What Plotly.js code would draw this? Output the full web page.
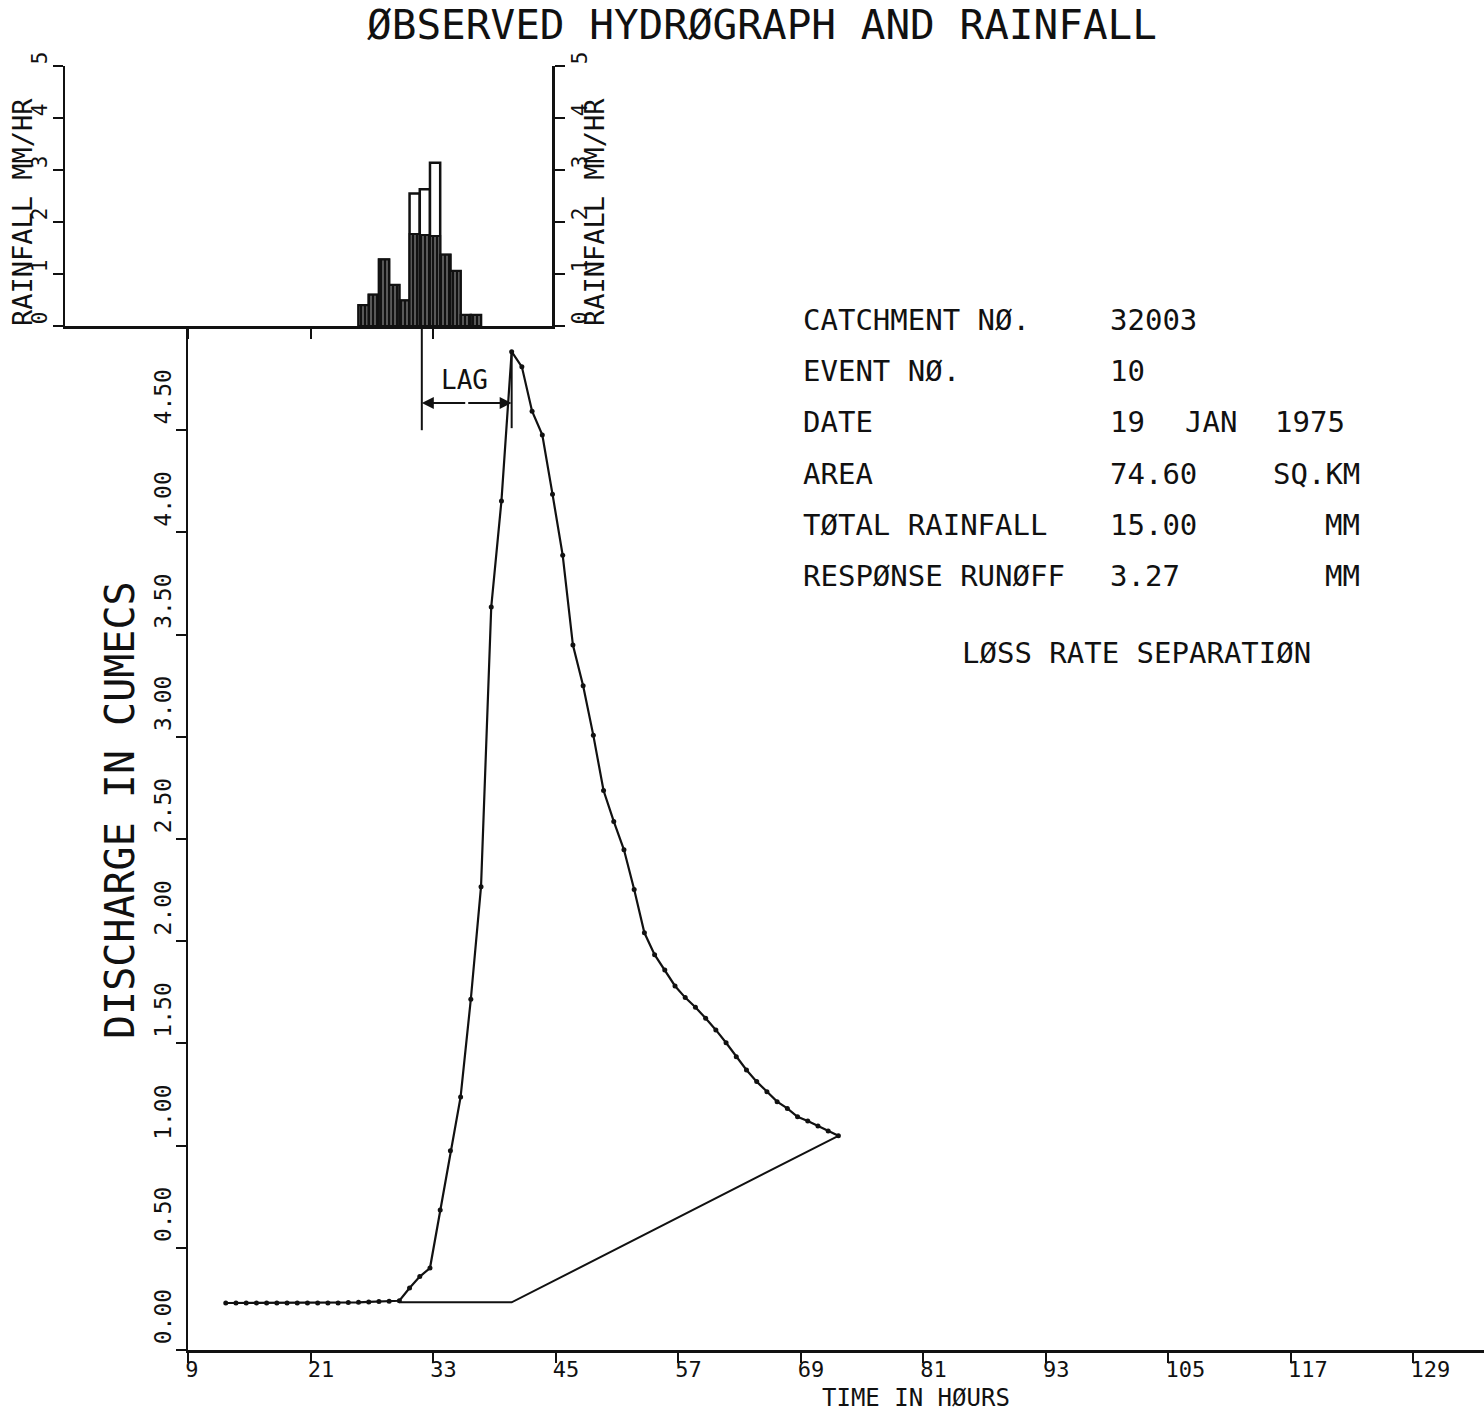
<!DOCTYPE html>
<html>
<head>
<meta charset="utf-8">
<script src="https://cdn.plot.ly/plotly-3.0.1.min.js"></script>
<style>
  html, body { margin: 0; padding: 0; background: #fff; }
  #chart { width: 1484px; height: 1413px; }
</style>
</head>
<body>
<div id="chart"></div>
<script>
// ---------------- DATA ----------------
const hydroTime = [12.7,13.7,14.7,15.7,16.7,17.7,18.7,19.7,20.7,21.7,22.7,23.7,24.7,25.7,26.7,27.7,28.7,
  29.7,30.7,31.7,32.7,33.7,34.7,35.7,36.7,37.7,38.7,39.7,40.7,
  41.7,42.7,43.7,44.7,45.7,46.7,47.7,48.7,49.7,50.7,51.7,52.7,53.7,54.7,55.7,56.7,
  57.7,58.7,59.7,60.7,61.7,62.7,63.7,64.7,65.7,66.7,67.7,68.7,69.7,70.7,71.7,72.7];
const hydroFlow = [0.23,0.23,0.23,0.23,0.23,0.23,0.23,0.23,0.23,0.23,0.23,0.23,0.232,0.233,0.235,0.237,0.239,
  0.241,0.303,0.359,0.401,0.685,0.975,1.238,1.716,2.267,3.635,4.154,4.884,
  4.810,4.593,4.477,4.187,3.888,3.449,3.250,3.007,2.737,2.586,2.447,2.253,2.041,1.934,1.859,1.781,
  1.724,1.677,1.623,1.566,1.503,1.435,1.370,1.313,1.264,1.215,1.182,1.141,1.120,1.096,1.071,1.048];

const sepTime = [29.7, 40.7, 72.7];
const sepFlow = [0.233, 0.233, 1.048];

const rainTime  = [26.2,27.2,28.2,29.2,30.2,31.2,32.2,33.2,34.2,35.2,36.2,37.2];
const rainTotal = [0.40,0.60,1.28,0.79,0.49,2.55,2.63,3.14,1.37,1.06,0.21,0.21];
const rainLoss  = [0.40,0.60,1.28,0.79,0.49,1.77,1.75,1.73,1.37,1.06,0.21,0.21];

const lagStart = 31.9, lagEnd = 40.7;

const timeTicks = [9,21,33,45,57,69,81,93,105,117,129];
const timeTickText = ["9","21","33","45","57","69","81","93","105","117","129"];
const flowTicks = [0,0.5,1,1.5,2,2.5,3,3.5,4,4.5];
const flowTickText = ["0.00","0.50","1.00","1.50","2.00","2.50","3.00","3.50","4.00","4.50"];
const rainTicks = [0,1,2,3,4,5];
const rainTickText = ["0","1","2","3","4","5"];

const infoLabels = ["CATCHMENT NØ.","EVENT NØ.","DATE","AREA","TØTAL RAINFALL","RESPØNSE RUNØFF"];
const infoValues = ["32003","10","19","74.60","15.00","3.27"];
const infoExtra  = ["","","JAN","","",""];
const infoUnits  = ["","","1975","SQ.KM","MM","MM"];
const methodText = "LØSS RATE SEPARATIØN";

// ---------------- LAYOUT HELPERS ----------------
const W = 1484, H = 1413;
const px = x => x / W;
const py = y => 1 - y / H;
const FONT = "DejaVu Sans Mono";
const INK = "#111";

const traces = [
  { type: 'bar', x: rainTime, y: rainTotal, width: 1, xaxis: 'x2', yaxis: 'y2',
    marker: { color: '#fff', line: { color: INK, width: 2.5 } }, hoverinfo: 'skip' },
  { type: 'bar', x: rainTime, y: rainLoss, width: 1, xaxis: 'x2', yaxis: 'y2',
    marker: { color: INK, line: { color: INK, width: 2 },
      pattern: { shape: '|', fgcolor: '#fff', bgcolor: INK, size: 4, solidity: 0.15 } }, hoverinfo: 'skip' },
  { type: 'scatter', mode: 'lines', x: sepTime, y: sepFlow, xaxis: 'x', yaxis: 'y',
    line: { color: INK, width: 2 }, hoverinfo: 'skip' },
  { type: 'scatter', mode: 'lines+markers', x: hydroTime, y: hydroFlow, xaxis: 'x', yaxis: 'y',
    line: { color: INK, width: 2.2 }, marker: { color: INK, size: 5 }, hoverinfo: 'skip' },
  // invisible trace so the right rainfall axis is drawn
  { type: 'scatter', mode: 'markers', x: [0], y: [0], xaxis: 'x2', yaxis: 'y3',
    marker: { opacity: 0 }, hoverinfo: 'skip', showlegend: false }
];

const ann = [];
function txt(text, x, y, size, opts) {
  ann.push(Object.assign({ text: text, xref: 'paper', yref: 'paper', x: px(x), y: py(y),
    showarrow: false, xanchor: 'left', yanchor: 'middle',
    font: { family: FONT, size: size, color: INK } }, opts || {}));
}
for (let i = 0; i < infoLabels.length; i++) {
  const yy = 320 + i * 51.2;
  txt(infoLabels[i], 801, yy, 29);
  txt(infoValues[i], 1108, yy, 29);
  if (infoExtra[i]) txt(infoExtra[i], 1183, yy, 29);
  if (infoUnits[i]) {
    if (i === 2) txt(infoUnits[i], 1273, yy, 29);
    else txt(infoUnits[i], 1362, yy, 29, { xanchor: 'right' });
  }
}
txt(methodText, 1136, 653, 29, { xanchor: 'center' });
// axis titles
txt("DISCHARGE IN CUMECS", 120, 810, 40, { xanchor: 'center', textangle: -90 });
txt("TIME IN HØURS", 916, 1398, 24, { xanchor: 'center' });
txt("RAINFALL MM/HR", 22, 212, 27, { xanchor: 'center', textangle: -90 });
txt("RAINFALL MM/HR", 594, 212, 27, { xanchor: 'center', textangle: -90 });

// LAG annotation (data coordinates)
const lagY = 4.633;
const lagMid = (lagStart + lagEnd) / 2;
ann.push({ xref: 'x', yref: 'y', axref: 'x', ayref: 'y', x: lagStart, y: lagY, ax: lagMid, ay: lagY,
  showarrow: true, arrowhead: 2, arrowsize: 1.2, arrowwidth: 2, arrowcolor: INK, text: '' });
ann.push({ xref: 'x', yref: 'y', axref: 'x', ayref: 'y', x: lagEnd, y: lagY, ax: lagMid, ay: lagY,
  showarrow: true, arrowhead: 2, arrowsize: 1.2, arrowwidth: 2, arrowcolor: INK, text: '' });
ann.push({ xref: 'x', yref: 'y', x: lagMid - 0.2, y: 4.746, text: 'LAG', showarrow: false,
  font: { family: FONT, size: 26, color: INK } });

const shapes = [
  { type: 'line', xref: 'x', yref: 'y', x0: lagStart, x1: lagStart, y0: 4.50, y1: 5.0,
    line: { color: INK, width: 2 } },
  { type: 'line', xref: 'x', yref: 'y', x0: lagEnd, x1: lagEnd, y0: 4.51, y1: 4.88,
    line: { color: INK, width: 2 } }
];

const layout = {
  width: W, height: H,
  margin: { l: 0, r: 0, t: 0, b: 0 },
  paper_bgcolor: '#fff', plot_bgcolor: 'rgba(0,0,0,0)',
  showlegend: false,
  barmode: 'overlay', bargap: 0,
  title: { text: 'ØBSERVED HYDRØGRAPH AND RAINFALL', x: px(762), xanchor: 'center',
    y: py(25), yanchor: 'middle', font: { family: FONT, size: 41, color: INK } },
  xaxis: { domain: [px(188), 1], range: [9, 9 + (W - 188) / 10.21], anchor: 'y',
    showgrid: false, zeroline: false, showline: true, linecolor: INK, linewidth: 2.5,
    ticks: 'outside', ticklen: 10, tickwidth: 2, tickcolor: INK,
    tickvals: timeTicks, ticktext: timeTickText, ticklabelposition: 'outside right',
    ticklabelshift: -5, ticklabelstandoff: -2,
    tickfont: { family: FONT, size: 22, color: INK } },
  yaxis: { domain: [py(1350), py(328)], range: [0, 5.0], anchor: 'x',
    showgrid: false, zeroline: false, showline: true, linecolor: INK, linewidth: 2.5,
    ticks: 'outside', ticklen: 10, tickwidth: 2, tickcolor: INK,
    tickvals: flowTicks, ticktext: flowTickText, tickangle: -90, ticklabelshift: -30,
    ticklabelstandoff: -5,
    tickfont: { family: FONT, size: 23, color: INK } },
  xaxis2: { domain: [px(65), px(552)], range: [9 - (188 - 65) / 10.21, 9 + (552 - 188) / 10.21],
    anchor: 'y2', showgrid: false, zeroline: false, showline: true, linecolor: INK, linewidth: 2.5,
    ticks: 'outside', ticklen: 10, tickwidth: 2, tickcolor: INK,
    tickvals: [9, 21, 33], showticklabels: false },
  yaxis2: { domain: [py(326), py(66)], range: [0, 5], anchor: 'x2',
    showgrid: false, zeroline: false, showline: true, linecolor: INK, linewidth: 2.5,
    ticks: 'outside', ticklen: 10, tickwidth: 2, tickcolor: INK,
    tickvals: rainTicks, ticktext: rainTickText, tickangle: -90, ticklabelshift: -5,
    ticklabelstandoff: -3,
    tickfont: { family: FONT, size: 21, color: INK } },
  yaxis3: { overlaying: 'y2', side: 'right', range: [0, 5], anchor: 'x2',
    showgrid: false, zeroline: false, showline: true, linecolor: INK, linewidth: 2.5,
    ticks: 'outside', ticklen: 10, tickwidth: 2, tickcolor: INK,
    tickvals: rainTicks, ticktext: rainTickText, tickangle: -90, ticklabelshift: -5,
    ticklabelstandoff: -3,
    tickfont: { family: FONT, size: 21, color: INK } },
  annotations: ann,
  shapes: shapes
};

Plotly.newPlot('chart', traces, layout, { staticPlot: true, displayModeBar: false });
</script>
</body>
</html>
